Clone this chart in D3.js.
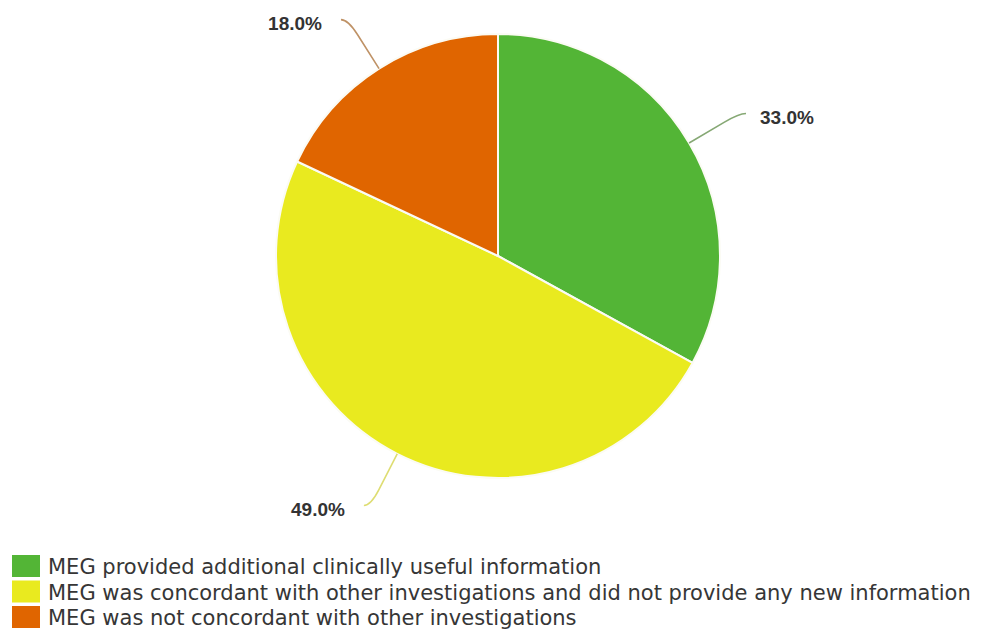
<!DOCTYPE html>
<html>
<head>
<meta charset="utf-8">
<script src="https://cdn.jsdelivr.net/npm/d3@7/dist/d3.min.js"></script>
<style>
  html, body { margin: 0; padding: 0; background: #fff; }
  svg { display: block; }
</style>
</head>
<body>
<svg id="chart" width="982" height="630"></svg>
<script>
// Outcome categories and their shares (%)
const categories = [
  "MEG provided additional clinically useful information",
  "MEG was concordant with other investigations and did not provide any new information",
  "MEG was not concordant with other investigations"
];
const values = [33.0, 49.0, 18.0];
const labels = ["33.0%", "49.0%", "18.0%"];
const colors = ["#53b536", "#e9ea1f", "#e06500"];
const connectorColors = ["#86a874", "#dedd72", "#bf9266"];

const W = 982, H = 630;
const cx = 498, cy = 256, r = 222;
const labelR = 280;

const svg = d3.select("#chart");
const data = categories.map((c, i) => ({ name: c, value: values[i], label: labels[i], color: colors[i], lc: connectorColors[i] }));

const pie = d3.pie().sort(null).value(d => d.value);
const arcs = pie(data);
const arc = d3.arc().innerRadius(0).outerRadius(r);

const g = svg.append("g").attr("transform", `translate(${cx},${cy})`);

g.selectAll("path.slice")
  .data(arcs)
  .join("path")
  .attr("class", "slice")
  .attr("d", arc)
  .attr("fill", d => d.data.color)
  .attr("stroke", "#fbfbf4")
  .attr("stroke-width", 2)
  .attr("stroke-linejoin", "round");

// Connector lines and data labels
const mid = d => (d.startAngle + d.endAngle) / 2;
const tail = 7;

arcs.forEach(d => {
  const a = mid(d);
  const sx = Math.sin(a), sy = -Math.cos(a);
  const right = sx >= 0;
  const gap = right ? 14 : 19;
  const edge = [r * sx, r * sy];
  const bend = [labelR * sx, labelR * sy];
  const end = [bend[0] + (right ? tail : -tail), bend[1]];
  const p = d3.path();
  p.moveTo(edge[0], edge[1]);
  p.lineTo(edge[0] + (bend[0] - edge[0]) * 0.7, edge[1] + (bend[1] - edge[1]) * 0.7);
  p.quadraticCurveTo(bend[0], bend[1], end[0], end[1]);
  g.append("path")
    .attr("d", p.toString())
    .attr("fill", "none")
    .attr("stroke", d.data.lc)
    .attr("stroke-width", 1.6);

  g.append("text")
    .attr("x", end[0] + (right ? gap : -gap))
    .attr("y", end[1] + 4)
    .attr("text-anchor", right ? "start" : "end")
    .attr("dominant-baseline", "central")
    .attr("font-family", "Liberation Sans, Arial, sans-serif")
    .attr("font-weight", "bold")
    .attr("font-size", 19)
    .attr("fill", "#333")
    .text(d.data.label);
});

// Legend
const legend = svg.append("g").attr("transform", "translate(12,555)");
const rowH = 25.5;
const items = legend.selectAll("g.item")
  .data(data)
  .join("g")
  .attr("class", "item")
  .attr("transform", (d, i) => `translate(0,${i * rowH})`);

items.append("rect")
  .attr("width", 28)
  .attr("height", 22)
  .attr("fill", d => d.color);

items.append("text")
  .attr("x", 36)
  .attr("y", 19)
  .attr("font-family", "DejaVu Sans, Verdana, sans-serif")
  .attr("font-size", 21)
  .attr("fill", "#363636")
  .text(d => d.name);
</script>
</body>
</html>
